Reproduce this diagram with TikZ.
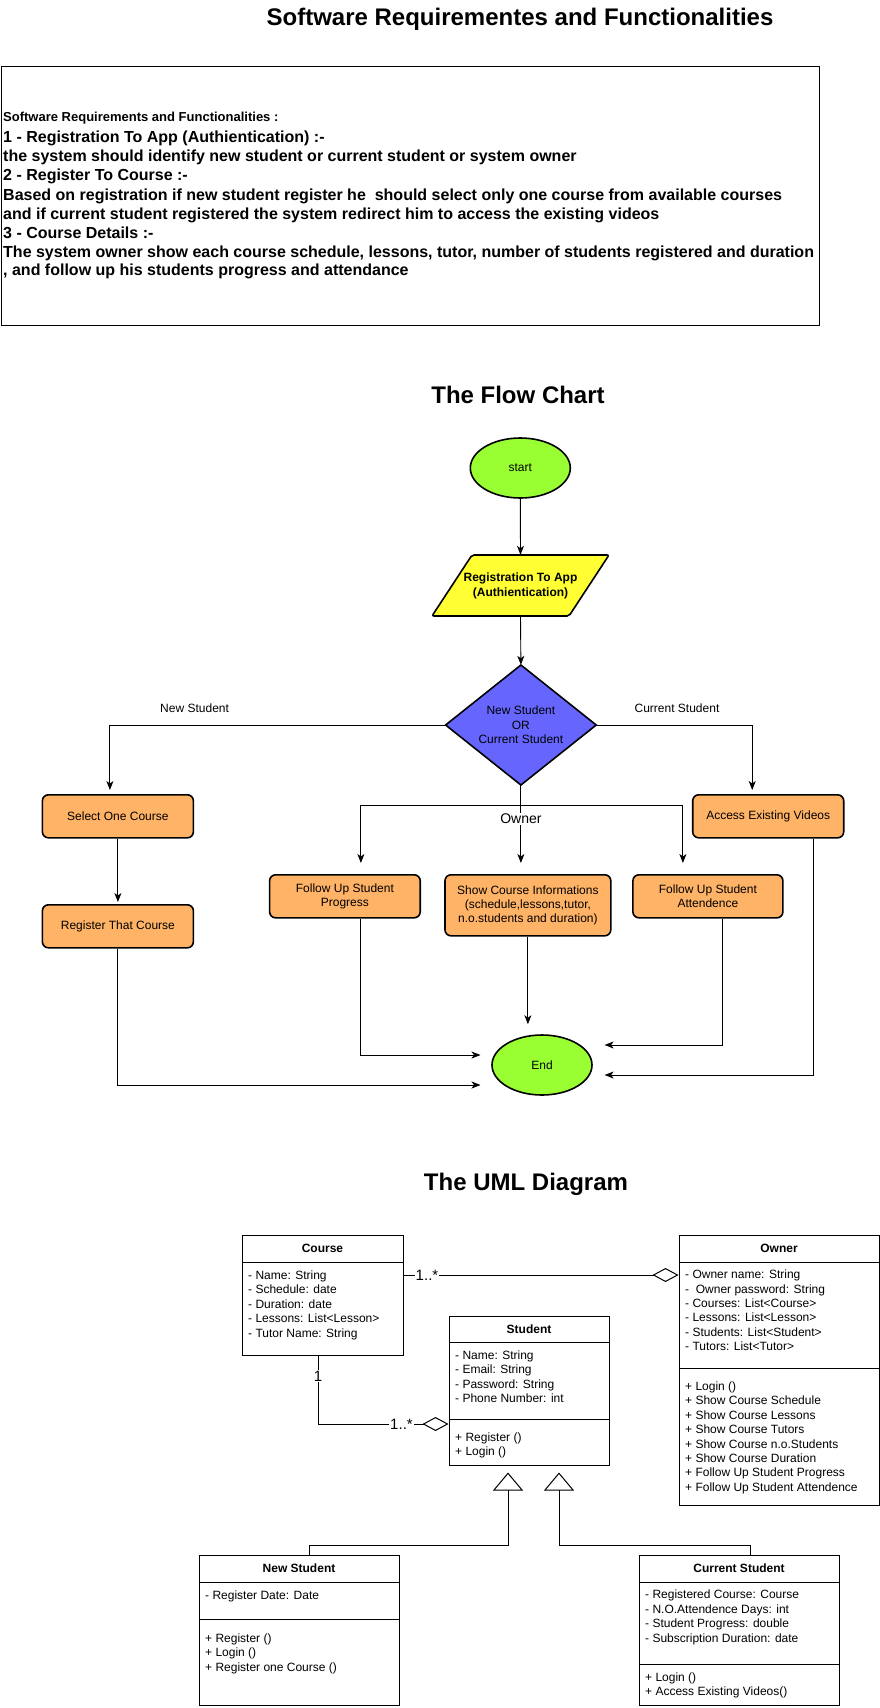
\documentclass[tikz,border=0pt]{standalone}
\usepackage{fontspec}
\setmainfont{Liberation Sans}
\usetikzlibrary{arrows.meta,shapes.geometric,calc}
\definecolor{forange}{HTML}{FFB366}
\definecolor{fyellow}{HTML}{FFFF33}
\definecolor{fgreen}{HTML}{99FF33}
\definecolor{fblue}{HTML}{6666FF}
\begin{document}
\begin{tikzpicture}[x=1pt,y=-1pt,
  f12/.style={font=\fontsize{12}{14.4}\selectfont},
  arr/.style={draw=black, line width=0.9pt, -{Stealth[length=9pt,width=7pt,inset=2.5pt]}},
  shp/.style={draw=black, line width=1.6pt},
  flowbox/.style={shp, rounded corners=6pt, fill=forange, inner sep=0, align=center, f12},
  term/.style={shp, ellipse, fill=fgreen, inner sep=0, minimum width=100pt, minimum height=60pt, f12},
  lbl/.style={fill=white, inner sep=1pt},
  cls/.style={draw=black, line width=1pt, inner sep=0},
  divider/.style={draw=black, line width=1pt},
  ctxt/.style={anchor=north west, inner sep=0, align=left, f12},
  chead/.style={inner sep=0, font=\bfseries\fontsize{12}{14.4}\selectfont},
  mult/.style={fill=white, inner sep=1pt, font=\fontsize{15}{17}\selectfont},
  agg/.style={draw=black, line width=1pt, -{Diamond[open,length=26pt,width=14pt]}},
  gen/.style={draw=black, line width=1pt, shorten >=7pt, -{Triangle[open,length=18pt,width=30pt]}},
  ttl/.style={font=\bfseries\fontsize{24}{28}\selectfont, inner sep=0},
  req/.style={anchor=base west, inner sep=0, font=\bfseries\fontsize{16}{19}\selectfont},
]
\useasboundingbox (0,0) rectangle (880,1708);
\fill[white] (0,0) rectangle (880,1708);

% ---------- Requirements ----------
\node[ttl] (title1) at (520,19) {Software Requirementes and Functionalities};
\node[draw=black, line width=1pt, inner sep=0, minimum width=818pt, minimum height=259pt] (reqbox) at (410,195.5) {};
\node[req, font=\bfseries\fontsize{13}{15}\selectfont] (r0) at (3,121.7) {Software Requirements and Functionalities :};
\node[req] (r1) at (3,142.4) {1 - Registration To App (Authientication) :-};
\node[req] (r2) at (3,161.7) {the system should identify new student or current student or system owner};
\node[req] (r3) at (3,180.7) {2 - Register To Course :-};
\node[req] (r4) at (3,200) {Based on registration if new student register he\ \ should select only one course from available courses};
\node[req] (r5) at (3,219) {and if current student registered the system redirect him to access the existing videos};
\node[req] (r6) at (3,238) {3 - Course Details :-};
\node[req] (r7) at (3,257.4) {The system owner show each course schedule, lessons, tutor, number of students registered and duration};
\node[req] (r8) at (3,275.7) {, and follow up his students progress and attendance};

% ---------- Flow chart ----------
\node[ttl] (title2) at (518,395) {The Flow Chart};

\node[term] (start) at (520.3,468) {start};

\draw[shp, fill=fyellow, rounded corners=2pt] (432,616) -- (472,555) -- (609,555) -- (569,616) -- cycle;
\node[inner sep=0, minimum width=137pt, minimum height=61pt, align=center, font=\bfseries\fontsize{12}{15}\selectfont] (para) at (520.5,585.5) {Registration To App\\(Authientication)};

\draw[shp, fill=fblue] (445.6,725) -- (520.9,665) -- (596.2,725) -- (520.9,785) -- cycle;
\node[inner sep=0, minimum width=150.6pt, minimum height=120pt, align=center, f12] (dia) at (520.9,725) {New Student\\OR\\Current Student};

\node[flowbox, minimum width=151pt, minimum height=43pt] (sel) at (117.9,816.3) {Select One Course};
\node[flowbox, minimum width=151pt, minimum height=43pt] (reg) at (117.9,926.3) {Register That Course};
\node[flowbox, minimum width=151pt, minimum height=43pt] (acc) at (768.2,816.3) {Access Existing Videos};
\node[flowbox, minimum width=150.6pt, minimum height=43pt] (prog) at (344.9,896.3) {Follow Up Student\\Progress};
\node[flowbox, minimum width=165.8pt, minimum height=61pt] (show) at (527.9,905.3) {Show Course Informations\\(schedule,lessons,tutor,\\n.o.students and duration)};
\node[flowbox, minimum width=150pt, minimum height=43pt] (att) at (707.9,896.3) {Follow Up Student\\Attendence};
\node[term] (end) at (542,1065) {End};

\node[f12, inner sep=0] (lnew) at (194.6,708) {New Student};
\node[f12, inner sep=0] (lcur) at (677,708) {Current Student};

\draw[arr] (start.south) -- (para.north);
\draw[arr] (para.south) -- (dia.north);
\draw[arr, shorten >=4pt] (dia.west) -| ([xshift=-8pt]sel.north);
\draw[arr, shorten >=4pt] (dia.east) -| ([xshift=-16pt]acc.north);
\draw[arr, shorten >=2pt] (sel.south) -- (reg.north);

\coordinate (ob) at (520.9,805);
\draw[arr, shorten >=11pt] (dia.south) -- (dia.south |- show.north);
\draw[arr, shorten >=11pt] (ob) -| ([xshift=16pt]prog.north);
\draw[arr, shorten >=11pt] (ob) -| ([xshift=-25pt]att.north);
\node[lbl, font=\fontsize{14}{16}\selectfont] (lown) at (520.9,819) {Owner};

\coordinate (e1) at (480.5,1055);
\coordinate (e2) at (480.5,1085);
\coordinate (e3) at (604.6,1045);
\coordinate (e4) at (604.6,1075);
\draw[arr] ([xshift=16pt]prog.south) |- (e1);
\draw[arr] (reg.south) |- (e2);
\draw[arr, shorten >=10pt] (show.south) -- (show.south |- end.north);
\draw[arr] ([xshift=15pt]att.south) |- (e3);
\draw[arr] ([xshift=45pt]acc.south) |- (e4);

% ---------- UML ----------
\node[ttl] (title3) at (526,1184) {The UML Diagram};

% Course
\node[cls, minimum width=161pt, minimum height=120pt] (course) at (322.5,1295) {};
\draw[divider] (242,1262) -- (403,1262);
\node[chead] (courseh) at (322.5,1248.5) {Course};
\node[ctxt] (coursea) at (248,1269.2) {\strut- Name: String\\- Schedule: date\\- Duration: date\\- Lessons: List<Lesson>\\- Tutor Name: String};

% Owner
\node[cls, minimum width=200pt, minimum height=270pt] (owner) at (779,1370) {};
\draw[divider] (679,1262) -- (879,1262);
\draw[divider] (679,1368) -- (879,1368);
\node[chead] (ownerh) at (779,1248.5) {Owner};
\node[ctxt] (ownera) at (685,1268.5) {\strut- Owner name: String\\-\ \ Owner password: String\\- Courses: List<Course>\\- Lessons: List<Lesson>\\- Students: List<Student>\\- Tutors: List<Tutor>};
\node[ctxt] (ownerm) at (685,1380.2) {\strut+ Login ()\\+ Show Course Schedule\\+ Show Course Lessons\\+ Show Course Tutors\\+ Show Course n.o.Students\\+ Show Course Duration\\+ Follow Up Student Progress\\+ Follow Up Student Attendence};

% Student
\node[cls, minimum width=160pt, minimum height=149pt] (student) at (529,1390.5) {};
\draw[divider] (449,1342) -- (609,1342);
\draw[divider] (449,1419) -- (609,1419);
\node[chead] (studenth) at (529,1329) {Student};
\node[ctxt] (studenta) at (455,1349.2) {\strut- Name: String\\- Email: String\\- Password: String\\- Phone Number: int};
\node[ctxt] (studentm) at (455,1431.2) {\strut+ Register ()\\+ Login ()};

% New Student
\node[cls, minimum width=200pt, minimum height=150pt] (ns) at (299,1630) {};
\draw[divider] (199,1582) -- (399,1582);
\draw[divider] (199,1619) -- (399,1619);
\node[chead] (nsh) at (299,1568.5) {New Student};
\node[ctxt] (nsa) at (205,1589.2) {\strut- Register Date: Date};
\node[ctxt] (nsm) at (205,1631.9) {\strut+ Register ()\\+ Login ()\\+ Register one Course ()};

% Current Student
\node[cls, minimum width=200pt, minimum height=150pt] (cs) at (739,1630) {};
\draw[divider] (639,1582) -- (839,1582);
\draw[divider] (639,1664) -- (839,1664);
\node[chead] (csh) at (739,1568.5) {Current Student};
\node[ctxt] (csa) at (645,1588.5) {\strut- Registered Course: Course\\- N.O.Attendence Days: int\\- Student Progress: double\\- Subscription Duration: date};
\node[ctxt] (csm) at (645,1671.2) {\strut+ Login ()\\+ Access Existing Videos()};

% associations
\coordinate (ya) at (0,1275);
\coordinate (yb) at (0,1424);
\coordinate (xc) at (318,0);
\draw[agg] (course.east |- ya) -- (owner.west |- ya);
\node[mult] (m1) at (427,1275) {1..*};
\draw[agg] (course.south -| xc) |- (student.west |- yb);
\node[mult] (m2) at (318,1376) {1};
\node[mult] (m3) at (401.5,1424) {1..*};

% generalisations
\coordinate (g1) at (508,1545);
\coordinate (g2) at (559,1545);
\draw[gen] ([xshift=10pt]ns.north) |- (g1) -- (g1 |- student.south);
\draw[gen] ([xshift=11pt]cs.north) |- (g2) -- (g2 |- student.south);
\end{tikzpicture}
\end{document}
